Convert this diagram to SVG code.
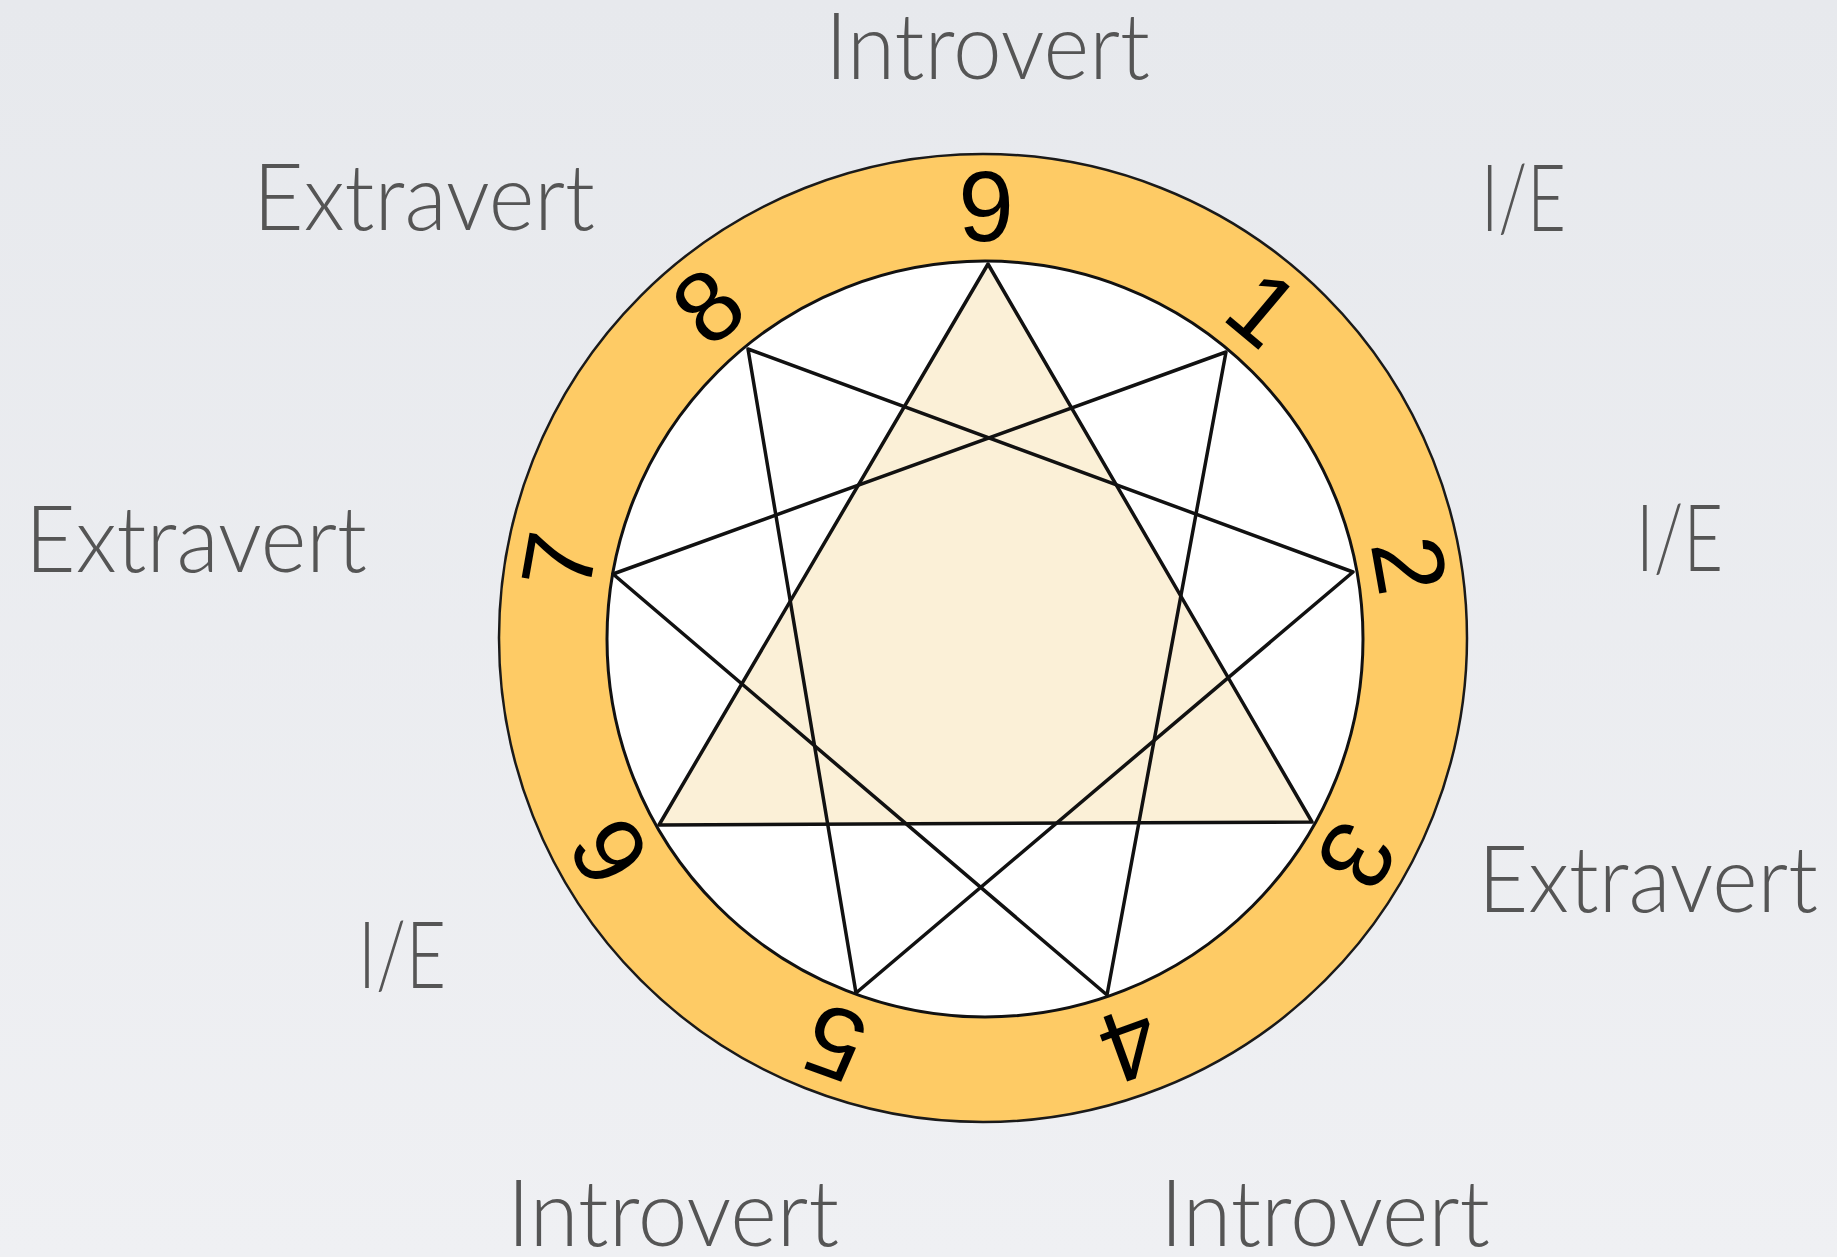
<svg xmlns="http://www.w3.org/2000/svg" width="1837" height="1257" viewBox="0 0 1837 1257">
<defs>
<linearGradient id="bg" x1="0" y1="0" x2="0" y2="1">
<stop offset="0" stop-color="#E7E9ED"/>
<stop offset="1" stop-color="#EFF0F3"/>
</linearGradient>
<style>
.lbl{font-family:Lato,"Open Sans","Liberation Sans",sans-serif;font-weight:300;font-size:92px;fill:#555555}
.num{font-family:"Liberation Sans",Arial,sans-serif;font-size:100px;fill:#000;text-anchor:middle}
.ln{fill:none;stroke:#111;stroke-width:3.5;stroke-linejoin:round}
</style>
</defs>
<rect width="1837" height="1257" fill="url(#bg)"/>
<g id="ring">
<circle cx="983" cy="638" r="484" fill="#FECB65" stroke="#1a1a1a" stroke-width="2.5"/>
<circle cx="985" cy="639" r="378" fill="#FFFFFF" stroke="#111" stroke-width="3"/>
</g>
<g id="numbers">
<text class="num" x="986" y="241">9</text>
<text class="num" x="986" y="241" transform="rotate(40 984 638)">1</text>
<text class="num" x="986" y="241" transform="rotate(80 984 638)">2</text>
<text class="num" x="986" y="241" transform="rotate(120 984 638)">3</text>
<text class="num" x="986" y="241" transform="rotate(160 984 638)">4</text>
<text class="num" x="986" y="241" transform="rotate(200 984 638)">5</text>
<text class="num" x="986" y="241" transform="rotate(240 984 638)">6</text>
<text class="num" x="986" y="241" transform="rotate(280 984 638)">7</text>
<text class="num" x="986" y="241" transform="rotate(320 984 638)">8</text>
</g>
<g id="connectors">
<polygon class="ln" points="988,264 1312,822 659,825" style="fill:#FBF0D7"/>
<polygon class="ln" points="1226,352 1107,995 613,574"/>
<polygon class="ln" points="1353,572 856,993 748,349"/>
</g>
<g id="labels">
<text class="lbl" x="825" y="79" textLength="325" lengthAdjust="spacingAndGlyphs">Introvert</text>
<text class="lbl" x="253" y="230" textLength="342" lengthAdjust="spacingAndGlyphs">Extravert</text>
<text class="lbl" x="1481" y="231" textLength="85" lengthAdjust="spacingAndGlyphs">I/E</text>
<text class="lbl" x="25" y="572" textLength="342" lengthAdjust="spacingAndGlyphs">Extravert</text>
<text class="lbl" x="1636" y="571" textLength="87" lengthAdjust="spacingAndGlyphs">I/E</text>
<text class="lbl" x="1478" y="912" textLength="340" lengthAdjust="spacingAndGlyphs">Extravert</text>
<text class="lbl" x="358" y="988" textLength="88" lengthAdjust="spacingAndGlyphs">I/E</text>
<text class="lbl" x="507" y="1246" textLength="332" lengthAdjust="spacingAndGlyphs">Introvert</text>
<text class="lbl" x="1160" y="1246" textLength="330" lengthAdjust="spacingAndGlyphs">Introvert</text>
</g>
</svg>
